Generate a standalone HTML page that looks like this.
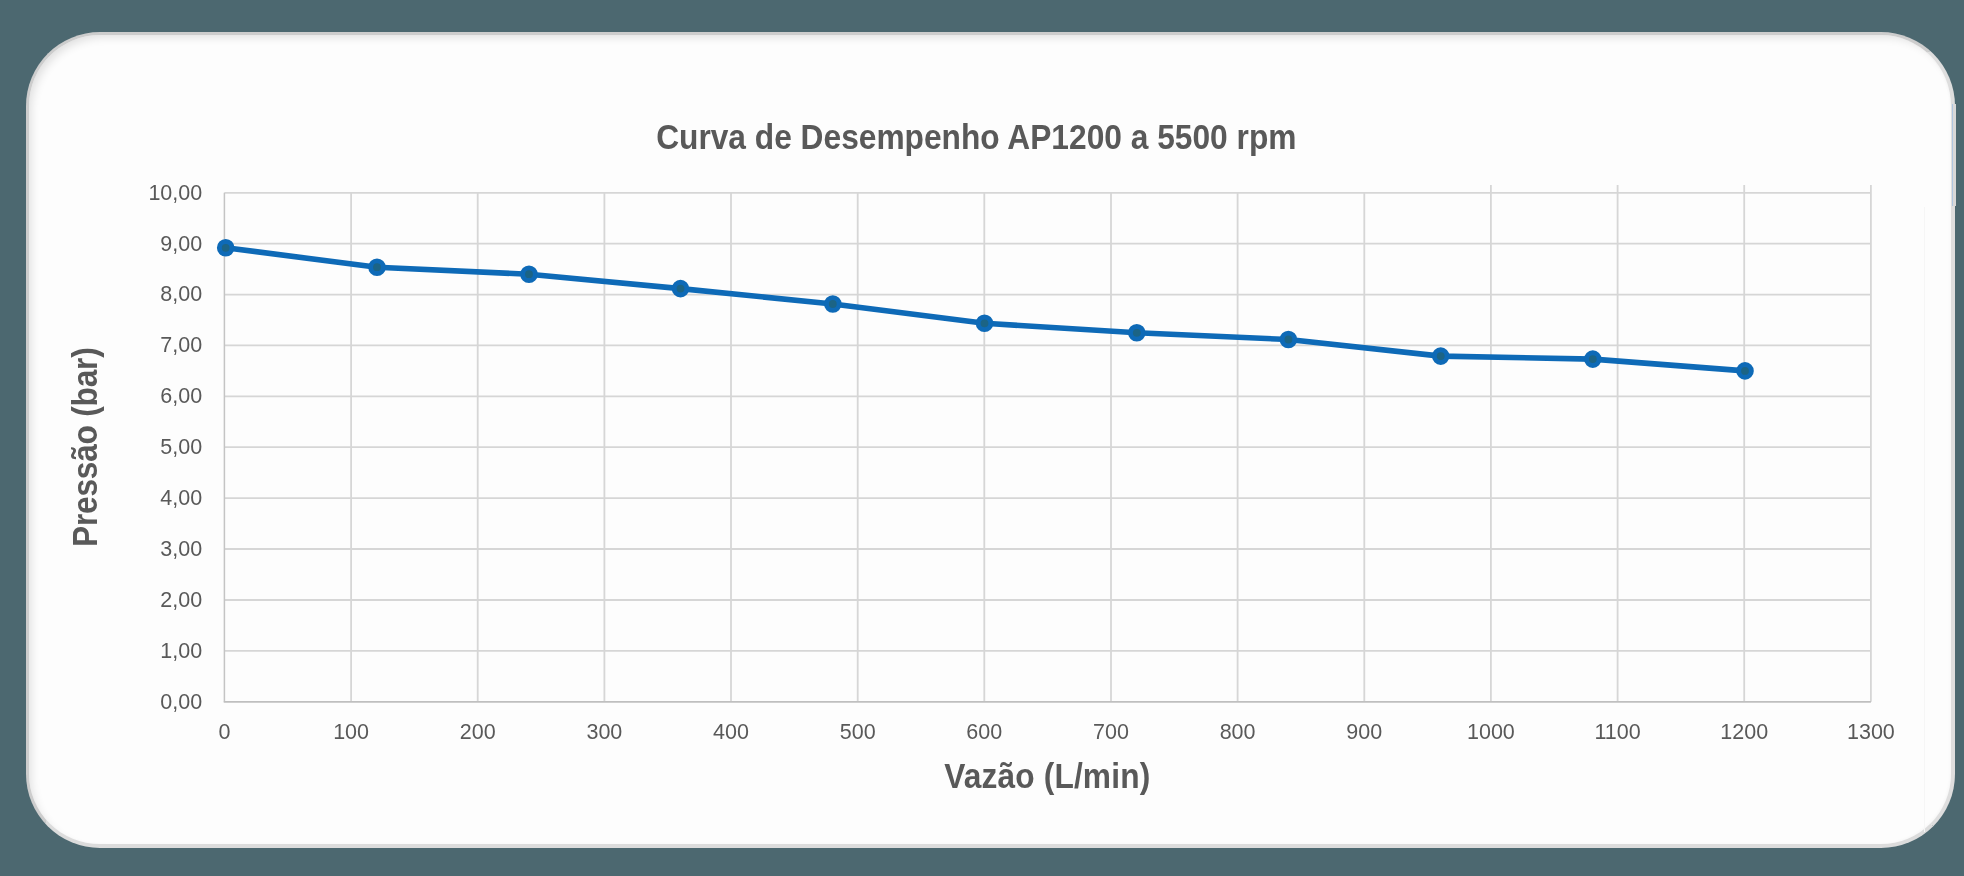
<!DOCTYPE html>
<html><head><meta charset="utf-8">
<style>
html,body{margin:0;padding:0;}
body{width:1964px;height:876px;background:#4c6870;position:relative;overflow:hidden;}
.card{position:absolute;left:26px;top:32px;width:1929px;height:816px;box-sizing:border-box;
 border-radius:74px;background:#fdfdfd;
 border-style:solid;border-color:#cdcdcd #dedede #dcdcdc #cdcdcd;border-width:3px 4px 4px 3px;
 box-shadow: inset 5px 5px 10px -3px rgba(0,0,0,0.12), inset -2px -1px 3px -1px rgba(0,0,0,0.03);}
svg{position:absolute;left:0;top:0;will-change:transform;}
text{font-family:"Liberation Sans",sans-serif;fill:#595959;}
.tick{font-size:21.5px;}
.ttl{font-weight:bold;}
</style></head><body>
<div class="card"></div>
<div style="position:absolute;left:1952px;top:104px;width:4px;height:102px;background:linear-gradient(to right,#afc6e0 0,#afc6e0 1px,#d8d8d8 1px,#d8d8d8 4px);"></div>
<div style="position:absolute;left:1924px;top:207px;width:1px;height:625px;background:#f6f6f6;"></div>
<svg width="1964" height="876" viewBox="0 0 1964 876">
<g stroke="#d6d6d6" stroke-width="1.8" fill="none">
<line x1="224.4" y1="650.9" x2="1870.9" y2="650.9"/>
<line x1="224.4" y1="600.0" x2="1870.9" y2="600.0"/>
<line x1="224.4" y1="549.0" x2="1870.9" y2="549.0"/>
<line x1="224.4" y1="498.1" x2="1870.9" y2="498.1"/>
<line x1="224.4" y1="447.2" x2="1870.9" y2="447.2"/>
<line x1="224.4" y1="396.4" x2="1870.9" y2="396.4"/>
<line x1="224.4" y1="345.4" x2="1870.9" y2="345.4"/>
<line x1="224.4" y1="294.6" x2="1870.9" y2="294.6"/>
<line x1="224.4" y1="243.7" x2="1870.9" y2="243.7"/>
<line x1="224.4" y1="192.8" x2="1870.9" y2="192.8"/>
<line x1="351.1" y1="192.8" x2="351.1" y2="701.8"/>
<line x1="477.7" y1="192.8" x2="477.7" y2="701.8"/>
<line x1="604.4" y1="192.8" x2="604.4" y2="701.8"/>
<line x1="731.0" y1="192.8" x2="731.0" y2="701.8"/>
<line x1="857.7" y1="192.8" x2="857.7" y2="701.8"/>
<line x1="984.3" y1="192.8" x2="984.3" y2="701.8"/>
<line x1="1111.0" y1="192.8" x2="1111.0" y2="701.8"/>
<line x1="1237.6" y1="192.8" x2="1237.6" y2="701.8"/>
<line x1="1364.3" y1="192.8" x2="1364.3" y2="701.8"/>
<line x1="1490.9" y1="185.0" x2="1490.9" y2="701.8"/>
<line x1="1617.6" y1="185.0" x2="1617.6" y2="701.8"/>
<line x1="1744.2" y1="185.0" x2="1744.2" y2="701.8"/>
<line x1="1870.9" y1="185.0" x2="1870.9" y2="701.8"/>
</g>
<line x1="224.4" y1="192.8" x2="224.4" y2="701.8" stroke="#c4c4c4" stroke-width="1.5"/>
<line x1="223.7" y1="701.8" x2="1870.9" y2="701.8" stroke="#bfbfbf" stroke-width="1.8"/>
<g class="tick">
<text x="202.2" y="708.6" text-anchor="end">0,00</text>
<text x="202.2" y="657.8" text-anchor="end">1,00</text>
<text x="202.2" y="606.9" text-anchor="end">2,00</text>
<text x="202.2" y="555.9" text-anchor="end">3,00</text>
<text x="202.2" y="505.0" text-anchor="end">4,00</text>
<text x="202.2" y="454.1" text-anchor="end">5,00</text>
<text x="202.2" y="403.2" text-anchor="end">6,00</text>
<text x="202.2" y="352.3" text-anchor="end">7,00</text>
<text x="202.2" y="301.4" text-anchor="end">8,00</text>
<text x="202.2" y="250.6" text-anchor="end">9,00</text>
<text x="202.2" y="199.7" text-anchor="end">10,00</text>
<text x="224.4" y="739.0" text-anchor="middle">0</text>
<text x="351.1" y="739.0" text-anchor="middle">100</text>
<text x="477.7" y="739.0" text-anchor="middle">200</text>
<text x="604.4" y="739.0" text-anchor="middle">300</text>
<text x="731.0" y="739.0" text-anchor="middle">400</text>
<text x="857.7" y="739.0" text-anchor="middle">500</text>
<text x="984.3" y="739.0" text-anchor="middle">600</text>
<text x="1111.0" y="739.0" text-anchor="middle">700</text>
<text x="1237.6" y="739.0" text-anchor="middle">800</text>
<text x="1364.3" y="739.0" text-anchor="middle">900</text>
<text x="1490.9" y="739.0" text-anchor="middle">1000</text>
<text x="1617.6" y="739.0" text-anchor="middle">1100</text>
<text x="1744.2" y="739.0" text-anchor="middle">1200</text>
<text x="1870.9" y="739.0" text-anchor="middle">1300</text>
</g>
<text class="ttl" x="976.3" y="149.5" text-anchor="middle" font-size="34.5" textLength="696" lengthAdjust="spacing" transform="translate(976.3 0) scale(0.92 1) translate(-976.3 0)">Curva de Desempenho AP1200 a 5500 rpm</text>
<text class="ttl" x="1047.2" y="788" text-anchor="middle" font-size="34.5" textLength="224" lengthAdjust="spacing" transform="translate(1047.2 0) scale(0.92 1) translate(-1047.2 0)">Vazão (L/min)</text>
<text class="ttl" x="0" y="0" text-anchor="middle" font-size="34.5" textLength="217" lengthAdjust="spacing" transform="translate(96.6 447.1) rotate(-90) scale(0.92 1)">Pressão (bar)</text>
<polyline points="225.7,247.8 377.0,267.2 529.0,274.2 680.5,288.6 832.8,304.0 984.5,323.3 1136.8,332.8 1288.4,339.5 1440.7,356.1 1592.8,359.1 1745.0,370.9" fill="none" stroke="#0e6ab7" stroke-width="5.6" stroke-linejoin="round" stroke-linecap="round"/>
<g fill="#1c6485" stroke="#0e6ab7" stroke-width="4.9">
<circle cx="225.7" cy="247.8" r="6.35"/>
<circle cx="377.0" cy="267.2" r="6.35"/>
<circle cx="529.0" cy="274.2" r="6.35"/>
<circle cx="680.5" cy="288.6" r="6.35"/>
<circle cx="832.8" cy="304.0" r="6.35"/>
<circle cx="984.5" cy="323.3" r="6.35"/>
<circle cx="1136.8" cy="332.8" r="6.35"/>
<circle cx="1288.4" cy="339.5" r="6.35"/>
<circle cx="1440.7" cy="356.1" r="6.35"/>
<circle cx="1592.8" cy="359.1" r="6.35"/>
<circle cx="1745.0" cy="370.9" r="6.35"/>
</g>
</svg>
</body></html>
